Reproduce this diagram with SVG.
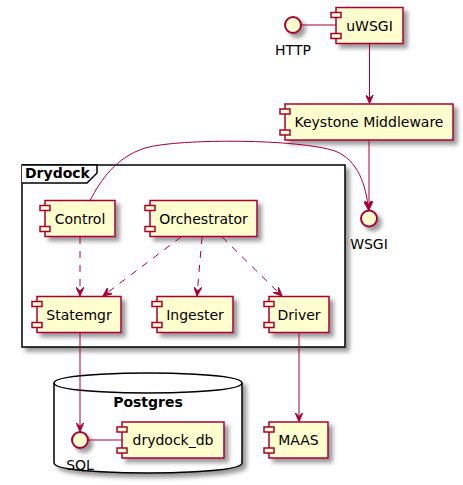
<svg xmlns="http://www.w3.org/2000/svg" width="463" height="485" viewBox="0 0 463 485">
<defs>
<filter id="sh" x="-1" y="-1" width="300%" height="300%">
 <feGaussianBlur result="b" stdDeviation="2"/>
 <feColorMatrix in="b" result="b2" type="matrix" values="0 0 0 0 0 0 0 0 0 0 0 0 0 0 0 0 0 0 .4 0"/>
 <feOffset dx="4" dy="4" in="b2" result="b3"/>
 <feBlend in="SourceGraphic" in2="b3" mode="normal"/>
</filter>
<marker id="ah" viewBox="0 0 10 8" refX="9" refY="4" markerWidth="10" markerHeight="8" markerUnits="userSpaceOnUse" orient="auto">
 <path d="M9,4 L0,0 L4,4 L0,8 Z" fill="#A80036" stroke="#A80036" stroke-width="1"/>
</marker>
</defs>
<style>
.body{fill:#FEFECE;stroke:#A80036;stroke-width:1.5;filter:url(#sh)}
.port{fill:#FEFECE;stroke:#A80036;stroke-width:1.5}
.ifc{fill:#FEFECE;stroke:#A80036;stroke-width:2;filter:url(#sh)}
.lbl{font-family:"DejaVu Sans",sans-serif;font-size:14px;fill:#000;text-anchor:middle}
.ttl{font-family:"DejaVu Sans",sans-serif;font-size:14px;font-weight:bold;fill:#000}
.cont{fill:#FFFFFF;stroke:#000;stroke-width:1.5}
.ln{fill:none;stroke:#A80036;stroke-width:1}
.dash{stroke-dasharray:7,7}
.arr{marker-end:url(#ah)}
</style>
<rect width="463" height="485" fill="#FFFFFF"/>

<g id="drydock">
 <rect class="cont" x="22" y="165" width="323" height="182" style="filter:url(#sh)"/>
 <path class="cont" d="M22,165 L97,165 L97,173 L87,183 L22,183"/>
 <text class="ttl" x="25" y="178">Drydock</text>
</g>

<g id="postgres">
 <path class="cont" style="filter:url(#sh)" d="M54,383 C54,373 148,373 148,373 C148,373 242,373 242,383 L242,463 C242,473 148,473 148,473 C148,473 54,473 54,463 Z"/>
 <path class="cont" fill="none" d="M54,383 C54,393 148,393 148,393 C148,393 242,393 242,383" style="fill:none"/>
 <text class="ttl" x="148" y="407" text-anchor="middle">Postgres</text>
</g>

<g id="http">
 <circle class="ifc" cx="293" cy="25" r="8"/>
 <text class="lbl" x="293" y="55">HTTP</text>
</g>

<g id="uwsgi">
 <rect class="body" x="336" y="7.5" width="67" height="36"/>
 <rect class="port" x="331" y="12.5" width="10" height="5"/>
 <rect class="port" x="331" y="33.5" width="10" height="5"/>
 <text class="lbl" x="369.5" y="30.5">uWSGI</text>
</g>

<g id="keystone">
 <rect class="body" x="285" y="104" width="168" height="36"/>
 <rect class="port" x="280" y="109" width="10" height="5"/>
 <rect class="port" x="280" y="130" width="10" height="5"/>
 <text class="lbl" x="369" y="127">Keystone Middleware</text>
</g>

<g id="wsgi">
 <circle class="ifc" cx="369" cy="218.5" r="8"/>
 <text class="lbl" x="369" y="248.5">WSGI</text>
</g>

<g id="control">
 <rect class="body" x="45" y="200.5" width="70" height="36"/>
 <rect class="port" x="40" y="205.5" width="10" height="5"/>
 <rect class="port" x="40" y="226.5" width="10" height="5"/>
 <text class="lbl" x="80" y="223.5">Control</text>
</g>

<g id="orchestrator">
 <rect class="body" x="150" y="200.5" width="107" height="36"/>
 <rect class="port" x="145" y="205.5" width="10" height="5"/>
 <rect class="port" x="145" y="226.5" width="10" height="5"/>
 <text class="lbl" x="203.5" y="223.5">Orchestrator</text>
</g>

<g id="statemgr">
 <rect class="body" x="37" y="296.5" width="84" height="36"/>
 <rect class="port" x="32" y="301.5" width="10" height="5"/>
 <rect class="port" x="32" y="322.5" width="10" height="5"/>
 <text class="lbl" x="79" y="319.5">Statemgr</text>
</g>

<g id="ingester">
 <rect class="body" x="157" y="296.5" width="76" height="36"/>
 <rect class="port" x="152" y="301.5" width="10" height="5"/>
 <rect class="port" x="152" y="322.5" width="10" height="5"/>
 <text class="lbl" x="195" y="319.5">Ingester</text>
</g>

<g id="driver">
 <rect class="body" x="269" y="296.5" width="60" height="36"/>
 <rect class="port" x="264" y="301.5" width="10" height="5"/>
 <rect class="port" x="264" y="322.5" width="10" height="5"/>
 <text class="lbl" x="299" y="319.5">Driver</text>
</g>

<g id="sql">
 <circle class="ifc" cx="80" cy="440" r="8"/>
 <text class="lbl" x="80" y="470">SQL</text>
</g>

<g id="drydock_db">
 <rect class="body" x="122" y="422" width="102" height="36"/>
 <rect class="port" x="117" y="427" width="10" height="5"/>
 <rect class="port" x="117" y="448" width="10" height="5"/>
 <text class="lbl" x="173" y="445">drydock_db</text>
</g>

<g id="maas">
 <rect class="body" x="269" y="422" width="59" height="36"/>
 <rect class="port" x="264" y="427" width="10" height="5"/>
 <rect class="port" x="264" y="448" width="10" height="5"/>
 <text class="lbl" x="298.5" y="445">MAAS</text>
</g>

<g id="connectors">
 <path class="ln" d="M301,25 L336,25"/>
 <path class="ln arr" d="M369.5,43.5 L369.5,103.5"/>
 <path class="ln arr" d="M369,140 L369,210"/>
 <path class="ln arr" d="M90,200.5 C101,180 115,158 145,148 C180,138 300,139 335,151 C358,160 366,185 368.5,210"/>
 <path class="ln dash arr" d="M80,237 L80,296"/>
 <path class="ln dash arr" d="M181,237 L103,296"/>
 <path class="ln dash arr" d="M202,237 L197,296"/>
 <path class="ln dash arr" d="M222,237 L282,296"/>
 <path class="ln arr" d="M80,333 L80,431.5"/>
 <path class="ln" d="M88,440 L122,440"/>
 <path class="ln arr" d="M299,333 L299,421.5"/>
</g>
</svg>
